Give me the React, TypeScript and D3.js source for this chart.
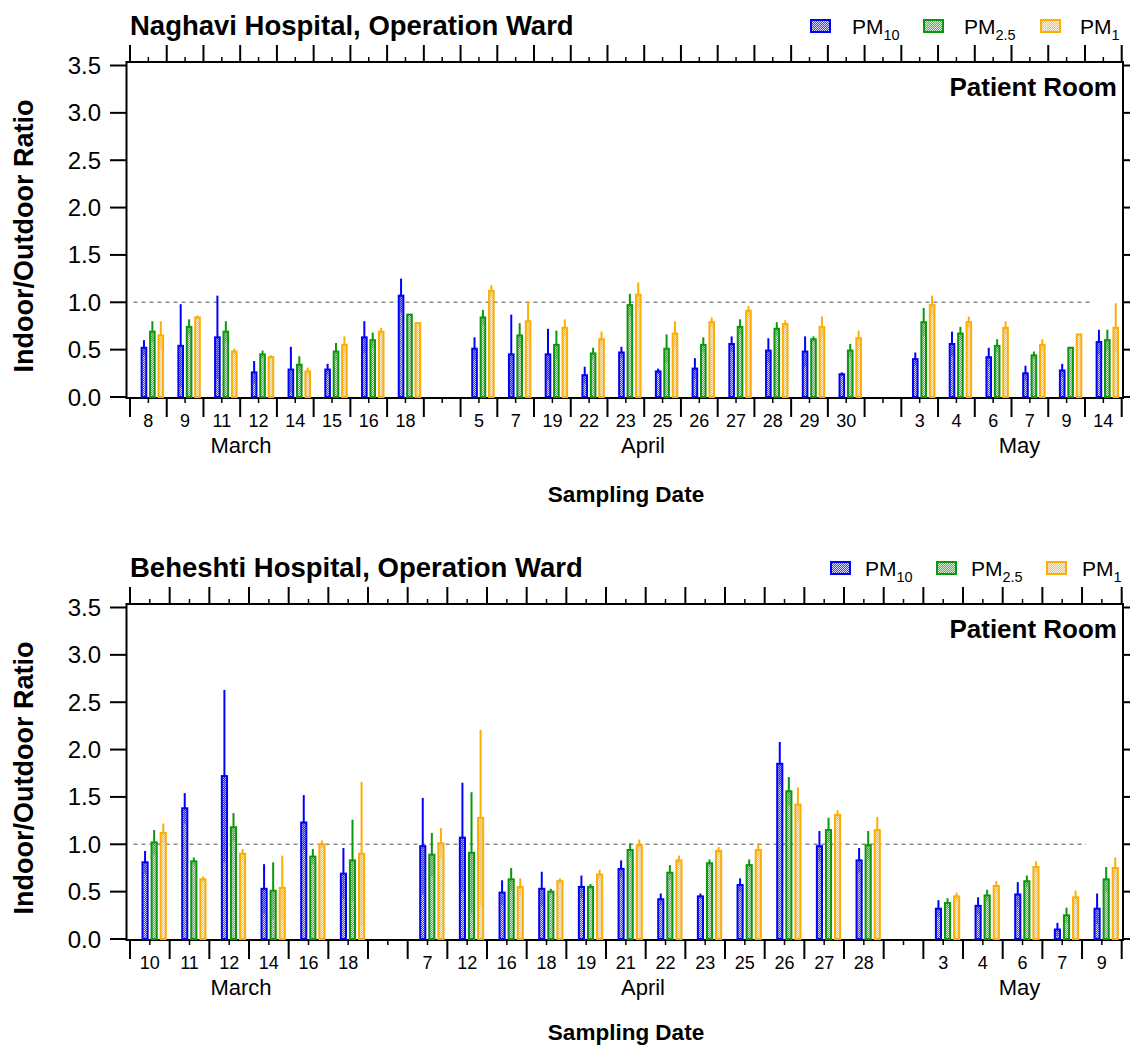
import React from 'react'
import * as d3 from 'd3'

// Naghavi hospital sampling days
const naghaviMarch = ['8', '9', '11', '12', '14', '15', '16', '18']
const naghaviApril = ['5', '7', '19', '22', '23', '25', '26', '27', '28', '29', '30']
const naghaviMay = ['3', '4', '6', '7', '9', '14']

const naghaviPM10 = [0.52, 0.54, 0.63, 0.26, 0.29, 0.29, 0.63, 1.07, 0.51, 0.45, 0.45, 0.23, 0.47, 0.27, 0.30, 0.56, 0.49, 0.48, 0.24, 0.40, 0.56, 0.42, 0.25, 0.28, 0.58]
const naghaviPM10Err = [0.08, 0.44, 0.44, 0.12, 0.24, 0.06, 0.17, 0.18, 0.12, 0.42, 0.27, 0.09, 0.06, 0.03, 0.11, 0.08, 0.13, 0.16, 0.02, 0.07, 0.13, 0.10, 0.08, 0.07, 0.13]
const naghaviPM25 = [0.69, 0.74, 0.69, 0.45, 0.34, 0.48, 0.60, 0.87, 0.84, 0.65, 0.55, 0.46, 0.97, 0.51, 0.55, 0.74, 0.72, 0.61, 0.49, 0.79, 0.67, 0.54, 0.44, 0.52, 0.60]
const naghaviPM25Err = [0.11, 0.08, 0.11, 0.04, 0.09, 0.09, 0.08, 0, 0.08, 0.13, 0.15, 0.06, 0.12, 0.15, 0.08, 0.08, 0.07, 0.03, 0.07, 0.15, 0.07, 0.07, 0.04, 0, 0.11]
const naghaviPM1 = [0.65, 0.84, 0.48, 0.42, 0.27, 0.55, 0.69, 0.78, 1.12, 0.80, 0.73, 0.61, 1.08, 0.67, 0.79, 0.91, 0.77, 0.74, 0.62, 0.97, 0.79, 0.73, 0.55, 0.66, 0.73]
const naghaviPM1Err = [0.15, 0.02, 0.03, 0.02, 0.04, 0.09, 0.04, 0, 0.06, 0.21, 0.09, 0.08, 0.13, 0.13, 0.05, 0.05, 0.04, 0.11, 0.08, 0.10, 0.06, 0.07, 0.06, 0, 0.26]

// Beheshti hospital sampling days
const beheshtiMarch = ['10', '11', '12', '14', '16', '18']
const beheshtiApril = ['7', '12', '16', '18', '19', '21', '22', '23', '25', '26', '27', '28']
const beheshtiMay = ['3', '4', '6', '7', '9']

const beheshtiPM10 = [0.81, 1.38, 1.72, 0.53, 1.23, 0.69, 0.98, 1.07, 0.49, 0.53, 0.55, 0.74, 0.42, 0.45, 0.57, 1.85, 0.98, 0.83, 0.32, 0.35, 0.47, 0.10, 0.32]
const beheshtiPM10Err = [0.12, 0.16, 0.91, 0.26, 0.29, 0.27, 0.51, 0.58, 0.13, 0.18, 0.12, 0.09, 0.06, 0.03, 0.07, 0.23, 0.16, 0.13, 0.09, 0.09, 0.13, 0.07, 0.16]
const beheshtiPM25 = [1.02, 0.82, 1.18, 0.51, 0.87, 0.83, 0.89, 0.91, 0.63, 0.50, 0.55, 0.94, 0.70, 0.80, 0.78, 1.56, 1.15, 0.99, 0.38, 0.46, 0.61, 0.25, 0.63]
const beheshtiPM25Err = [0.13, 0.04, 0.15, 0.30, 0.08, 0.43, 0.23, 0.64, 0.12, 0.03, 0.03, 0.07, 0.08, 0.04, 0.06, 0.15, 0.13, 0.15, 0.05, 0.06, 0.06, 0.08, 0.13]
const beheshtiPM1 = [1.12, 0.63, 0.90, 0.54, 1.00, 0.90, 1.01, 1.28, 0.55, 0.61, 0.68, 0.99, 0.83, 0.93, 0.94, 1.42, 1.31, 1.15, 0.45, 0.56, 0.76, 0.44, 0.75]
const beheshtiPM1Err = [0.10, 0.03, 0.05, 0.34, 0.04, 0.76, 0.16, 0.93, 0.09, 0.03, 0.05, 0.06, 0.05, 0.04, 0.07, 0.18, 0.05, 0.14, 0.04, 0.05, 0.06, 0.07, 0.11]

const monthNames = ['March', 'April', 'May']
const seriesLabels = [['PM', '10'], ['PM', '2.5'], ['PM', '1']]
const seriesColors = ['#0000ff', '#0a990a', '#ffad00']
const yTicks = [0, 0.5, 1, 1.5, 2, 2.5, 3, 3.5]

const FONT = '"Liberation Sans", Arial, Helvetica, sans-serif'

const Panel = ({ oy, title, months, values, errors, legendX, legendTextX, dashEnd, xTitleY }) => {
    // build slots: dates of each month, with an empty slot between months
    const slots = []
    months.forEach((days, m) => {
        if (m > 0) slots.push({ key: 'gap' + m, label: null })
        days.forEach(d => slots.push({ key: m + '-' + d, label: d }))
    })
    const dataSlots = slots.filter(s => s.label !== null)

    const x = d3.scaleBand().domain(slots.map(s => s.key)).range([130, 1121.7]).padding(0)
    const y = d3.scaleLinear().domain([0, 3.5]).range([oy + 397, oy + 65.5])
    const w = x.bandwidth()
    const barW = w * 0.18
    const boundaries = slots.map(s => x(s.key)).concat([x.range()[1]])

    const frameL = 126.5, frameR = 1123, frameT = oy + 62, frameB = oy + 398
    const monthX = [241, 643, 1019.5]

    return (
        <g fontFamily={FONT}>
            <text x={130} y={oy + 35} fontSize={27.5} fontWeight="bold">{title}</text>

            {seriesLabels.map((lab, i) => (
                <g key={i}>
                    <rect x={legendX[i]} y={oy + 20} width={19} height={12}
                        fill={`url(#pat${i})`} stroke={seriesColors[i]} strokeWidth={2} />
                    <text x={legendTextX[i]} y={oy + 33.5} fontSize={21}>
                        {lab[0]}<tspan dy={6} fontSize={14.5}>{lab[1]}</tspan>
                    </text>
                </g>
            ))}

            {/* frame */}
            <rect x={frameL} y={frameT} width={frameR - frameL} height={frameB - frameT}
                fill="none" stroke="#000" strokeWidth={2} />

            {/* y ticks, left labelled, right plain */}
            {yTicks.map(t => (
                <g key={t}>
                    <line x1={110} x2={frameL} y1={y(t)} y2={y(t)} stroke="#000" strokeWidth={2} />
                    <line x1={frameR} x2={1130} y1={y(t)} y2={y(t)} stroke="#000" strokeWidth={2} />
                    <text x={101} y={y(t) + 8.5} fontSize={24} textAnchor="end">{d3.format('.1f')(t)}</text>
                </g>
            ))}

            {/* category ticks, top and bottom */}
            {boundaries.map((b, i) => (
                <g key={'b' + i}>
                    <line x1={b} x2={b} y1={frameT} y2={frameT - 17} stroke="#000" strokeWidth={2} />
                    <line x1={b} x2={b} y1={frameB} y2={frameB + 19} stroke="#000" strokeWidth={2} />
                </g>
            ))}
            {slots.map(s => (
                <g key={'m' + s.key}>
                    <line x1={x(s.key) + w / 2} x2={x(s.key) + w / 2} y1={frameT} y2={frameT - 5} stroke="#000" strokeWidth={1.5} />
                    <line x1={x(s.key) + w / 2} x2={x(s.key) + w / 2} y1={frameB} y2={frameB + 5} stroke="#000" strokeWidth={1.5} />
                </g>
            ))}

            {dataSlots.map(s => (
                <text key={'l' + s.key} x={x(s.key) + w / 2} y={oy + 427} fontSize={18} textAnchor="middle">{s.label}</text>
            ))}
            {monthNames.map((m, i) => (
                <text key={m} x={monthX[i]} y={oy + 453} fontSize={22} textAnchor="middle">{m}</text>
            ))}
            <text x={626} y={xTitleY} fontSize={22.5} fontWeight="bold" textAnchor="middle">Sampling Date</text>

            <text x={1117} y={oy + 96} fontSize={26} fontWeight="bold" textAnchor="end">Patient Room</text>

            {/* ratio = 1 reference */}
            <line x1={frameL + 7} x2={dashEnd} y1={y(1)} y2={y(1)} stroke="#888" strokeWidth={1.6} strokeDasharray="4,4" />

            {/* bars with error bars */}
            {values.map((vals, si) => dataSlots.map((s, di) => {
                const v = vals[di]
                const e = errors[si][di]
                const left = x(s.key) + w * (0.29 + si * 0.229)
                const cx = left + barW / 2
                return (
                    <g key={si + '-' + s.key}>
                        <rect x={left + 1} y={y(v)} width={barW - 2} height={y(0) - y(v)}
                            fill={`url(#pat${si})`} stroke={seriesColors[si]} strokeWidth={2} />
                        {e > 0 && (
                            <>
                                <line x1={cx} x2={cx} y1={y(v)} y2={y(v + e)} stroke={seriesColors[si]} strokeWidth={2} />
                                <line x1={cx} x2={cx} y1={y(Math.max(0, v - e))} y2={y(v)} stroke={seriesColors[si]} strokeWidth={2} opacity={0.35} />
                            </>
                        )}
                    </g>
                )
            }))}

            <text transform={`translate(33,${oy + 236}) rotate(-90)`} fontSize={27} fontWeight="bold" textAnchor="middle">Indoor/Outdoor Ratio</text>
        </g>
    )
}

const App = () => {
    return (
        <div style={{ position: 'absolute', left: 0, top: 0 }}>
            <svg width={1131} height={1047} style={{ display: 'block', backgroundColor: 'white' }}>
                <defs>
                    {seriesColors.map((c, i) => (
                        <pattern key={i} id={'pat' + i} width={2} height={2} patternUnits="userSpaceOnUse">
                            <rect width={2} height={2} fill={c} opacity={0.75} />
                            <rect width={1} height={1} fill="#fff" opacity={0.8} />
                            <rect x={1} y={1} width={1} height={1} fill="#fff" opacity={0.8} />
                        </pattern>
                    ))}
                </defs>
                <Panel
                    oy={0}
                    title="Naghavi Hospital, Operation Ward"
                    months={[naghaviMarch, naghaviApril, naghaviMay]}
                    values={[naghaviPM10, naghaviPM25, naghaviPM1]}
                    errors={[naghaviPM10Err, naghaviPM25Err, naghaviPM1Err]}
                    legendX={[811, 924, 1041]}
                    legendTextX={[852, 964, 1080]}
                    dashEnd={1092}
                    xTitleY={502}
                />
                <Panel
                    oy={542}
                    title="Beheshti Hospital, Operation Ward"
                    months={[beheshtiMarch, beheshtiApril, beheshtiMay]}
                    values={[beheshtiPM10, beheshtiPM25, beheshtiPM1]}
                    errors={[beheshtiPM10Err, beheshtiPM25Err, beheshtiPM1Err]}
                    legendX={[831, 937, 1047]}
                    legendTextX={[865, 971, 1082]}
                    dashEnd={1086}
                    xTitleY={1040}
                />
            </svg>
        </div>
    )
}

export default App
